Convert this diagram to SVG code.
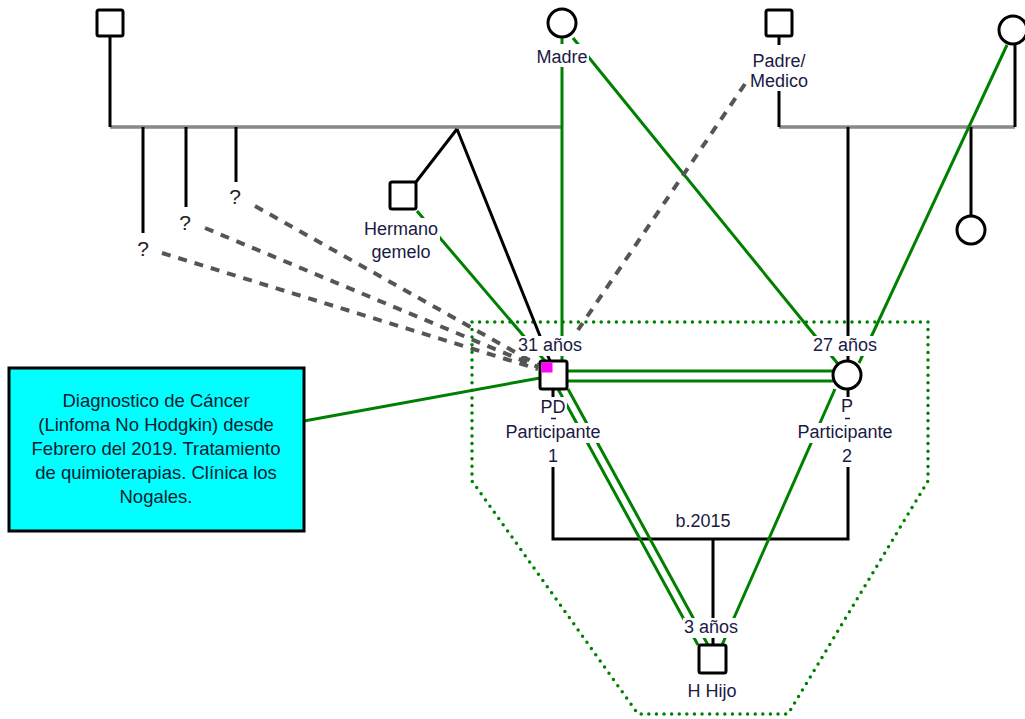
<svg xmlns="http://www.w3.org/2000/svg" width="1025" height="719" viewBox="0 0 1025 719">
<style>
.b{stroke:#000;stroke-width:3;fill:none}
.gr{stroke:#888;stroke-width:3.5;fill:none}
.g{stroke:#008000;stroke-width:3;fill:none}
.d{stroke:#555;stroke-width:4;stroke-dasharray:9 8;fill:none}
.dot{stroke:#008000;stroke-width:3.5;stroke-linecap:round;stroke-dasharray:0 7.6;fill:none}
.sym{fill:#fff;stroke:#000;stroke-width:3}
.bg{fill:#fff}
.tick{stroke:#1a1a44;stroke-width:1.5}
text{font-family:"Liberation Sans",Arial,sans-serif;font-size:18px;fill:#1a1a44;text-anchor:middle}
.q{fill:#222;font-size:21px}
.box{fill:#102030;font-size:18.5px}
</style>
<rect width="1025" height="719" fill="#fff"/>
<g id="connectors">
<path class="dot" d="M472,322 H928 V481 L788,714 H638 L472,481 Z"/>
<path class="gr" d="M110,127 H562 M779,127 H1015"/>
<path class="b" d="M110,37 V127 M143,127 V233 M186,127 V207 M236,127 V182 M779,37 V127 M1015,44 V127 M971,127 V216 M848,127 V361 M457,129 L416,182 M457,129 L550,361 M553,390 V539 H848 V389 M713,539 V645"/>
<path class="g" d="M562,37 V361 M573,38 L838,364 M1007,45 L859,363 M417,211 L545,361 M304,421 L540,378 M567,371 H834 M567,381 H834 M558,389 L698,645 M568,389 L708,645 M835,389 L722,645"/>
<path class="d" d="M162,253 L538,369 M205,228 L538,367 M255,206 L538,365 M745,84 L578,330"/>
</g>
<g id="father-left"><rect class="sym" x="97" y="10" width="26" height="26" rx="2"/></g>
<g id="madre"><circle class="sym" cx="562" cy="23" r="14"/><rect class="bg" x="535" y="44" width="54" height="23"/><text x="562" y="63">Madre</text></g>
<g id="padre-medico"><rect class="sym" x="766" y="10" width="26" height="26" rx="2"/><rect class="bg" x="748" y="45" width="62" height="46"/><text x="779" y="67">Padre/</text><text x="779" y="87">Medico</text></g>
<g id="mother-right"><circle class="sym" cx="1013" cy="30" r="14"/></g>
<g id="sister-right"><circle class="sym" cx="971" cy="230" r="14"/></g>
<g id="unknown1"><text class="q" x="143" y="256">?</text></g>
<g id="unknown2"><text class="q" x="185" y="230">?</text></g>
<g id="unknown3"><text class="q" x="235" y="204">?</text></g>
<g id="hermano"><rect class="sym" x="390" y="182" width="26" height="27" rx="2"/><rect class="bg" x="362" y="218" width="78" height="46"/><text x="401" y="235">Hermano</text><text x="401" y="258">gemelo</text></g>
<g id="pd">
<rect class="sym" x="540" y="361" width="27" height="28" rx="2"/><rect x="541.5" y="362.5" width="11" height="10" fill="#f0f"/>
<rect class="bg" x="517" y="336" width="66" height="20"/><text x="550" y="351">31 años</text>
<rect class="bg" x="539" y="397" width="28" height="70"/><rect class="bg" x="504" y="423" width="98" height="20"/>
<text x="553" y="413">PD</text><line class="tick" x1="551" y1="418.5" x2="556" y2="418.5"/><text x="553" y="438">Participante</text><text x="553" y="462">1</text>
</g>
<g id="p">
<circle class="sym" cx="847" cy="375" r="14"/>
<rect class="bg" x="812" y="336" width="66" height="20"/><text x="845" y="351">27 años</text>
<rect class="bg" x="838" y="397" width="18" height="70"/><rect class="bg" x="796" y="423" width="98" height="20"/>
<text x="847" y="412">P</text><line class="tick" x1="845" y1="418.5" x2="850" y2="418.5"/><text x="845" y="438">Participante</text><text x="847" y="462">2</text>
</g>
<g id="union"><text x="703" y="527">b.2015</text></g>
<g id="hijo"><rect class="sym" x="699" y="645" width="27" height="28" rx="2"/><rect class="bg" x="683" y="618" width="58" height="20"/><text x="711" y="633">3 años</text><text x="712" y="697">H Hijo</text></g>
<g id="diagnostico">
<rect x="9" y="368" width="295" height="163" fill="#0ff" stroke="#000" stroke-width="3"/>
<text class="box" x="156" y="407">Diagnostico de Cáncer</text>
<text class="box" x="156" y="431">(Linfoma No Hodgkin) desde</text>
<text class="box" x="156" y="455">Febrero del 2019. Tratamiento</text>
<text class="box" x="156" y="479">de quimioterapias. Clínica los</text>
<text class="box" x="156" y="503">Nogales.</text>
</g>
</svg>
